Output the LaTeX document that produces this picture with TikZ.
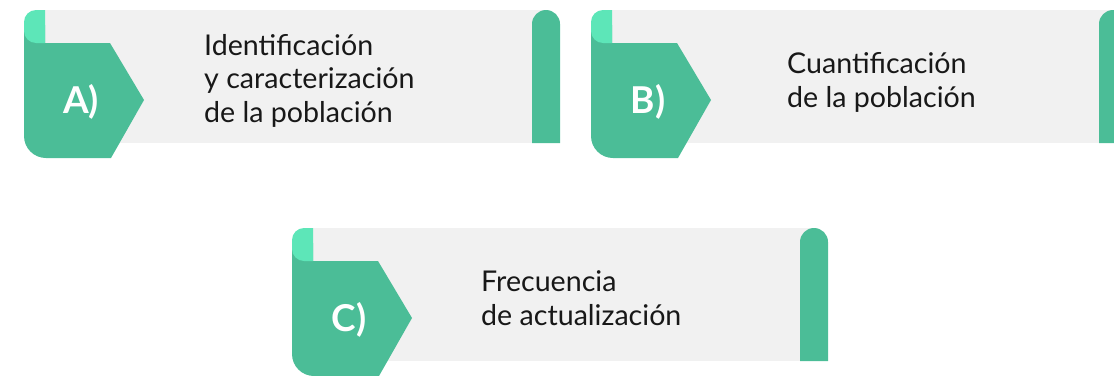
\documentclass[tikz,border=0pt]{standalone}
\usepackage{fontspec}
\setmainfont{Lato}
\definecolor{leaf}{RGB}{75,189,151}
\definecolor{mint}{RGB}{93,230,184}
\definecolor{panel}{RGB}{241,241,241}
\definecolor{ink}{RGB}{24,24,24}
\tikzset{
    letter/.style={anchor=base, inner sep=0pt, text=white, font=\fontsize{37}{40}\selectfont\bfseries},
    caption/.style={anchor=base west, inner sep=0pt, align=left, text=ink, font=\fontsize{28.6}{33.5}\selectfont}
}
\begin{document}
\begin{tikzpicture}[x=1pt, y=-1pt]
    \clip (0, 0) rectangle (1114, 375);
    \useasboundingbox (0, 0) rectangle (1114, 375);
    \foreach \ox/\oy/\lab/\tx/\ty/\txt in {
        24/10/A/180/112/{Identificación\\y caracterización\\de la población},
        591/10/B/196/97/{Cuantificación\\de la población},
        292/228/C/189/97/{Frecuencia\\de actualización}}{
        \begin{scope}[shift={(\ox, \oy)}]
            % grey band and end bar
            \fill[panel] (21, 0) rectangle (520, 133);
            \fill[leaf] (508, 133) -- (508, 14) arc (180:270:14) -- (522, 0) arc (270:360:14) -- (536, 133) -- cycle;
            % arrow flag
            \fill[leaf] (0, 15) -- (21, 15) -- (21, 33) -- (86, 33) -- (120, 90) -- (87, 148) -- (22, 148) arc (90:180:22) -- cycle;
            \fill[mint] (21, 0) -- (12, 0) arc (270:180:12) -- (0, 21) arc (180:90:12) -- (21, 33) -- cycle;
            \node[letter] (lbl\lab) at (57, 103) {\lab)};
            \node[caption] (txt\lab) at (\tx, \ty) {\txt};
        \end{scope}
    }
\end{tikzpicture}
\end{document}
